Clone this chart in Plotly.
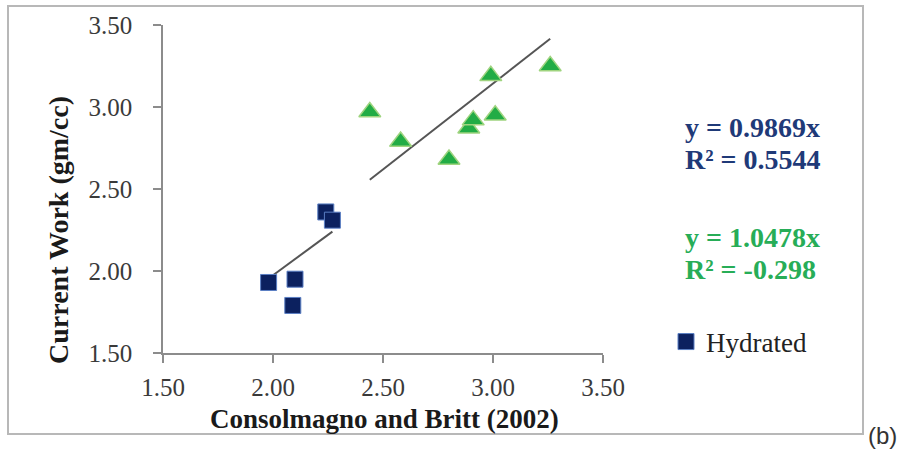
import plotly.graph_objects as go

# Bulk density: Consolmagno and Britt (2002) vs. current work (gm/cc)
hydrated_x = [2.24, 2.27, 1.98, 2.10, 2.09]
hydrated_y = [2.36, 2.31, 1.93, 1.95, 1.79]
anhydrous_x = [2.44, 2.58, 2.80, 2.89, 2.91, 3.01, 2.99, 3.26]
anhydrous_y = [2.97, 2.79, 2.68, 2.87, 2.92, 2.95, 3.19, 3.25]

# Zero-intercept linear fits (slope, R²) for each group
fit_slopes = [0.9869, 1.0478]
fit_r2 = [0.5544, -0.298]

tick_vals = [1.5, 2.0, 2.5, 3.0, 3.5]
tick_text = ["1.50", "2.00", "2.50", "3.00", "3.50"]

NAVY = "#0c215f"
NAVY_TEXT = "#1f3a78"
GREEN = "#22ac45"
GREEN_TEXT = "#27ad57"
SERIF = "Liberation Serif"

# Plot area in pixels (figure is 906 x 450)
W, H = 906, 450
L, R, T, B = 163, 303, 25, 97
PW, PH = W - L - R, H - T - B


def px_x(p):
    return (p - L) / PW


def px_y(p):
    return (H - B - p) / PH


fig = go.Figure()

# trend lines y = m x over each group's x range
for xs, m in [(hydrated_x, fit_slopes[0]), (anhydrous_x, fit_slopes[1])]:
    x0, x1 = min(xs), max(xs)
    fig.add_trace(go.Scatter(
        x=[x0, x1], y=[m * x0, m * x1], mode="lines",
        line=dict(color="#555555", width=2), showlegend=False,
        hoverinfo="skip"))

fig.add_trace(go.Scatter(
    x=anhydrous_x, y=anhydrous_y, mode="markers", name="Anhydrous",
    marker=dict(symbol="triangle-up", size=19, color=GREEN,
                line=dict(color="#9fd47f", width=1.5)),
    showlegend=False))

fig.add_trace(go.Scatter(
    x=hydrated_x, y=hydrated_y, mode="markers", name="Hydrated",
    marker=dict(symbol="square", size=16, color=NAVY,
                line=dict(color="#5b7fc4", width=1)),
    showlegend=True))

axis_common = dict(
    range=[1.5, 3.5], tickvals=tick_vals, ticktext=tick_text,
    showgrid=False, zeroline=False, showline=True,
    linecolor="#8c8c8c", linewidth=1.5,
    ticks="outside", ticklen=8, tickcolor="#8c8c8c", tickwidth=1.5,
    tickfont=dict(family=SERIF, size=25, color="#3a3a3a"),
    fixedrange=True,
)

fig.update_layout(
    width=W, height=H,
    margin=dict(l=L, r=R, t=T, b=B, pad=0),
    paper_bgcolor="white", plot_bgcolor="white",
    font=dict(family=SERIF),
    xaxis=dict(**axis_common, ticklabelstandoff=3),
    yaxis=dict(**axis_common, ticklabelstandoff=16),
    legend=dict(
        x=px_x(666), y=px_y(342), xanchor="left", yanchor="middle",
        font=dict(family=SERIF, size=27, color="#222222"),
        bgcolor="rgba(0,0,0,0)", itemwidth=30,
    ),
)

annotations = [
    dict(text="<b>Consolmagno and Britt (2002)</b>", x=px_x(384), y=px_y(419),
         font=dict(family=SERIF, size=27, color="#1a1a1a")),
    dict(text="<b>Current Work (gm/cc)</b>", x=px_x(58), y=px_y(230),
         textangle=-90, font=dict(family=SERIF, size=28, color="#1a1a1a")),
    dict(text="(b)", x=px_x(882), y=px_y(435),
         font=dict(family="Liberation Sans", size=24, color="#333333")),
]

eq_rows = [
    (f"y = {fit_slopes[0]:.4f}x", 127, NAVY_TEXT),
    (f"R² = {fit_r2[0]:.4f}", 159, NAVY_TEXT),
    (f"y = {fit_slopes[1]:.4f}x", 237, GREEN_TEXT),
    (f"R² = {fit_r2[1]:.3f}", 269, GREEN_TEXT),
]
for text, py, color in eq_rows:
    annotations.append(dict(
        text=f"<b>{text}</b>", x=px_x(683), y=px_y(py),
        xanchor="left", font=dict(family=SERIF, size=28, color=color)))

for a in annotations:
    a.setdefault("xanchor", "center")
    a.update(xref="paper", yref="paper", yanchor="middle", showarrow=False)

fig.update_layout(annotations=annotations)

# outer chart frame
fig.add_shape(type="rect", xref="paper", yref="paper",
              x0=px_x(8), x1=px_x(863), y0=px_y(434), y1=px_y(6),
              line=dict(color="#b8b8b8", width=2), layer="below")

fig.write_html("out.html")
